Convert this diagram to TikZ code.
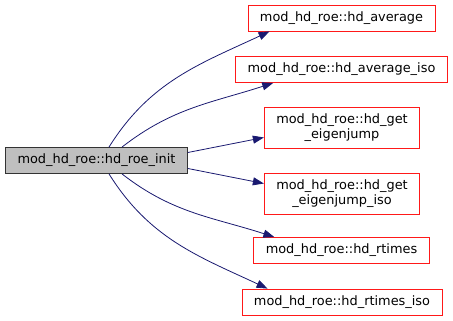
\documentclass[tikz,border=0pt]{standalone}
\usepackage{fontspec}
\setmainfont{DejaVu Sans}
\usepackage{tikz}
\usetikzlibrary{arrows.meta}
\definecolor{edgeblue}{RGB}{25,25,112}
\tikzset{
  fn/.style={draw, minimum height=26pt, inner xsep=12pt, inner ysep=2pt, font=\fontsize{12.9}{15}\selectfont, line width=0.8pt},
  root/.style={fn, fill=black!25, draw=black!80},
  callee/.style={fn, draw=red!90, fill=white},
  twoline/.style={align=center, minimum height=41pt},
  call/.style={draw=edgeblue, line width=0.8pt, -{Triangle[length=11pt,width=8pt]}}
}

\begin{document}
\begin{tikzpicture}[x=1pt, y=1pt]
\useasboundingbox (0,0) rectangle (453,321);
\node[root] (init) at (96.5,160.5) {mod\_hd\_roe::hd\_roe\_init};
\node[callee] (avg) at (341.5,303) {mod\_hd\_roe::hd\_average};
\node[callee] (avgiso) at (341.5,251.5) {mod\_hd\_roe::hd\_average\_iso};
\node[callee, twoline] (eig) at (342,193.5) {mod\_hd\_roe::hd\_get\\\_eigenjump};
\node[callee, twoline] (eigiso) at (342,127.5) {mod\_hd\_roe::hd\_get\\\_eigenjump\_iso};
\node[callee] (rt) at (341.5,70.5) {mod\_hd\_roe::hd\_rtimes};
\node[callee] (rtiso) at (342,19) {mod\_hd\_roe::hd\_rtimes\_iso};
% calls
\draw[call] ([xshift=12.5pt]init.north) to[out=58, in=205] ([xshift=22pt]avg.south west);
\draw[call] ([xshift=25.5pt]init.north) to[out=38, in=198] ([xshift=38pt]avgiso.south west);
\draw[call] ([yshift=8pt]init.east) -- ([yshift=-10pt]eig.west);
\draw[call] ([yshift=-8pt]init.east) -- ([yshift=10pt]eigiso.west);
\draw[call] ([xshift=25.5pt]init.south) to[out=-38, in=162] ([xshift=21pt]rt.north west);
\draw[call] ([xshift=12.5pt]init.south) to[out=-58, in=155] ([xshift=26pt]rtiso.north west);
\end{tikzpicture}
\end{document}
